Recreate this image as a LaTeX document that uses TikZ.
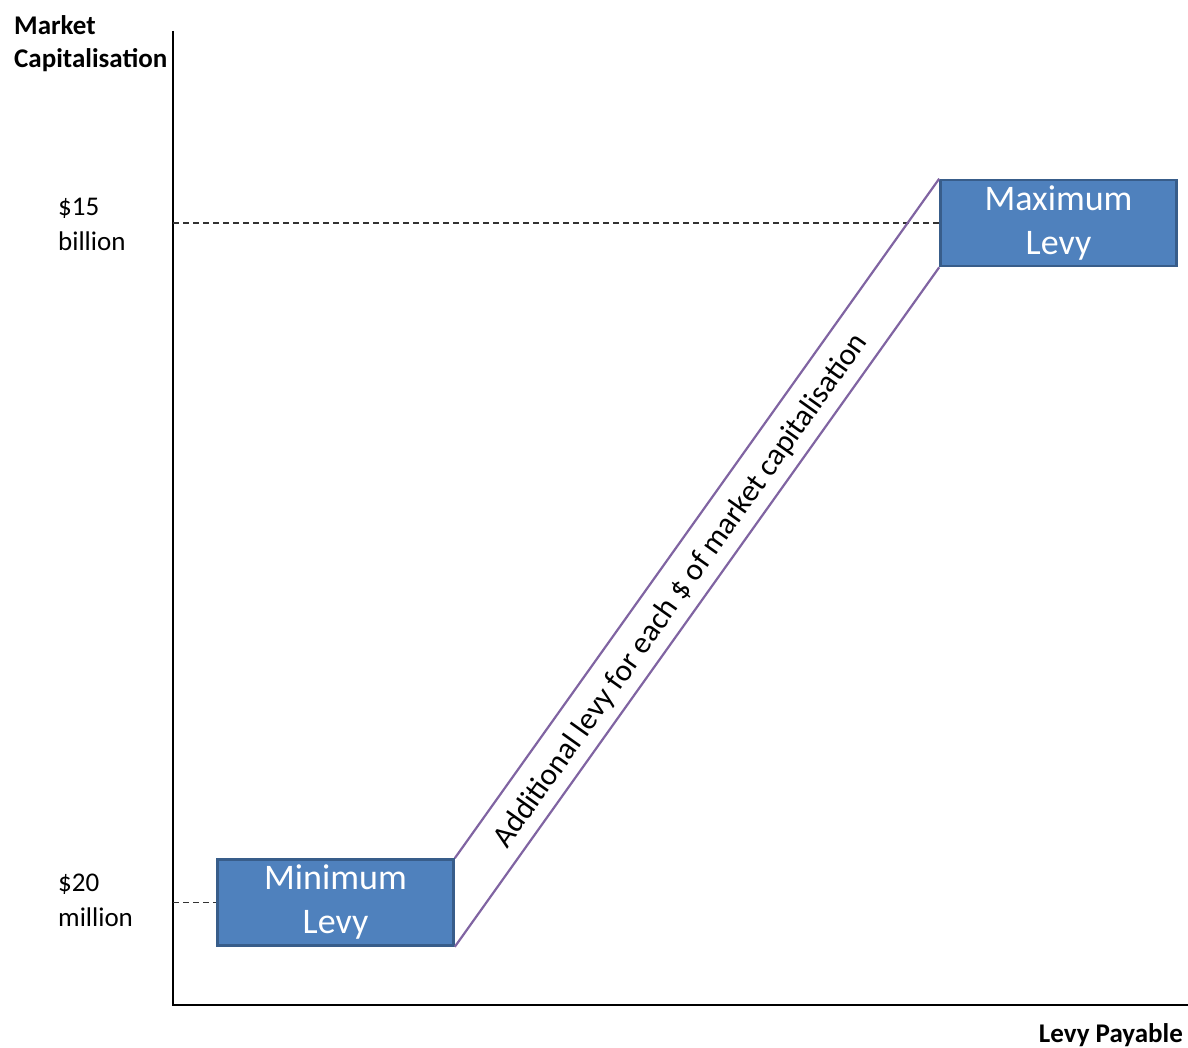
\documentclass[tikz,border=0pt]{standalone}
\usepackage{fontspec}
\setmainfont{Carlito}
\usetikzlibrary{positioning}
\definecolor{levyblue}{HTML}{4F81BD}
\definecolor{levyedge}{HTML}{385D8A}
\definecolor{levypurple}{HTML}{8064A2}
\tikzset{
	levybox/.style={draw=levyedge, fill=levyblue, line width=2.6pt, text=white, align=center,
		minimum width=236pt, minimum height=86pt, inner sep=0pt, font=\fontsize{36}{44}\selectfont},
	ticklabel/.style={anchor=west, align=left, inner sep=0pt, font=\fontsize{27}{35}\selectfont},
	axislabel/.style={inner sep=0pt, align=left, font=\fontsize{27}{33}\selectfont\bfseries},
	guide/.style={dash pattern=on 6pt off 4pt, line width=1.3pt, black!80},
	band/.style={levypurple, line width=2.2pt}
}
\begin{document}
\begin{tikzpicture}[x=1pt,y=-1pt]
	\useasboundingbox (0,0) rectangle (1188,1048);

	% axes
	\coordinate (top) at (173,31);
	\coordinate (origin) at (173,1005);
	\coordinate (right) at (1188,1005);
	\draw[line width = 2.8pt] (top) -- (origin) -- (right);

	% levy boxes
	\node[levybox] (minlevy) at (335.5,902.5) {Minimum\\Levy};
	\node[levybox] (maxlevy) at (1058.5,223) {Maximum\\Levy};

	% dashed guides
	\draw[guide] (origin |- maxlevy.west) -- (maxlevy.west);
	\draw[guide] (origin |- minlevy.west) -- (minlevy.west);

	% band between the two boxes
	\draw[band] (minlevy.north east) -- (maxlevy.north west);
	\draw[band] (minlevy.south east) -- (maxlevy.south west);
	\node[rotate=54.6, font=\fontsize{31}{36}\selectfont, inner sep=0pt] (bandtext) at (681,591)
		{Additional levy for each \$ of market capitalisation};

	% labels
	\node[axislabel, anchor=west] (ylabel) at (14,43.5) {Market\\Capitalisation};
	\node[axislabel, anchor=east] (xlabel) at (1183,1035) {Levy Payable};
	\node[ticklabel] (bn) at (58,224) {\$15\\billion};
	\node[ticklabel] (mn) at (58,900) {\$20\\million};

\end{tikzpicture}
\end{document}
